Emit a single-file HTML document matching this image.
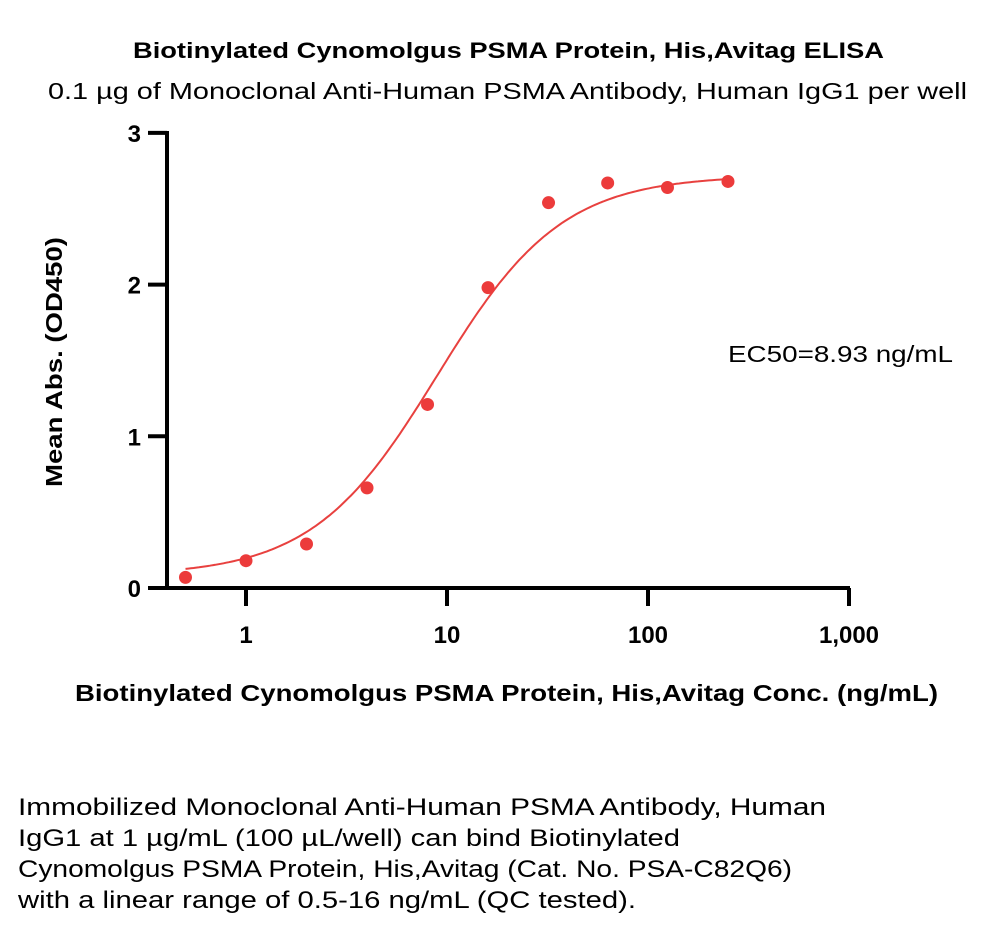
<!DOCTYPE html>
<html><head><meta charset="utf-8"><style>
body{margin:0;background:#fff;width:1000px;height:929px;overflow:hidden;font-family:"Liberation Sans",sans-serif}
svg text{font-family:"Liberation Sans",sans-serif}
</style></head><body>
<svg id="c" width="1000" height="929">
<text x="133" y="58" textLength="751" lengthAdjust="spacingAndGlyphs" font-size="22" font-weight="bold">Biotinylated Cynomolgus PSMA Protein, His,Avitag ELISA</text>
<text x="48" y="99" textLength="919" lengthAdjust="spacingAndGlyphs" font-size="23">0.1 µg of Monoclonal Anti-Human PSMA Antibody, Human IgG1 per well</text>
<text transform="translate(62,487) rotate(-90)" textLength="250" lengthAdjust="spacingAndGlyphs" font-size="23" font-weight="bold">Mean Abs. (OD450)</text>
<text x="75" y="701" textLength="863" lengthAdjust="spacingAndGlyphs" font-size="23" font-weight="bold">Biotinylated Cynomolgus PSMA Protein, His,Avitag Conc. (ng/mL)</text>
<text x="728" y="362" textLength="225" lengthAdjust="spacingAndGlyphs" font-size="23">EC50=8.93 ng/mL</text>
<g id="axes"></g><g id="marks"></g>
<text font-size="24">
<tspan x="18" y="815" textLength="808" lengthAdjust="spacingAndGlyphs">Immobilized Monoclonal Anti-Human PSMA Antibody, Human</tspan>
<tspan x="18" y="846" textLength="662" lengthAdjust="spacingAndGlyphs">IgG1 at 1 µg/mL (100 µL/well) can bind Biotinylated</tspan>
<tspan x="18" y="877" textLength="774" lengthAdjust="spacingAndGlyphs">Cynomolgus PSMA Protein, His,Avitag (Cat. No. PSA-C82Q6)</tspan>
<tspan x="18" y="908" textLength="618" lengthAdjust="spacingAndGlyphs">with a linear range of 0.5-16 ng/mL (QC tested).</tspan>
</text>
</svg>
<script>
const conc=[0.5,1,2,4,8,16,32,63,125,250];
const od=[0.07,0.18,0.29,0.66,1.21,1.98,2.54,2.67,2.64,2.68];
const xTicks=[1,10,100,1000];
const xTickLabels=["1","10","100","1,000"];
const yTicks=[0,1,2,3];
const fitBottom=0.08,fitTop=2.72,ec50=8.93,hill=1.4;
const NS="http://www.w3.org/2000/svg";
const X=v=>246+201*Math.log10(v);
const Y=v=>588-151.7*v;
function mk(t,a,p){const e=document.createElementNS(NS,t);for(const k in a)e.setAttribute(k,a[k]);p.appendChild(e);return e;}
const ax=document.getElementById('axes'),mk2=document.getElementById('marks');
let l=mk('line',{x1:148,y1:588,x2:850,y2:588,stroke:'#000','stroke-width':4},ax);


l=mk('line',{x1:167,y1:131,x2:167,y2:590,stroke:'#000','stroke-width':4},ax);


yTicks.forEach(v=>{
 const t=mk('line',{x1:148,y1:Y(v),x2:167,y2:Y(v),stroke:'#000','stroke-width':4},ax);
 
 
 const s=mk('text',{x:141,y:Y(v)+9,'text-anchor':'end','font-size':24,'font-weight':'bold'},ax);s.textContent=v;
 
 
});
xTicks.forEach((v,i)=>{
 const t=mk('line',{x1:X(v),y1:588,x2:X(v),y2:606,stroke:'#000','stroke-width':4},ax);
 
 
 const s=mk('text',{x:X(v),y:643,'text-anchor':'middle','font-size':24,'font-weight':'bold'},ax);s.textContent=xTickLabels[i];
 
 
});
let d='';
for(let i=0;i<=200;i++){const lx=Math.log10(conc[0])+(Math.log10(conc[conc.length-1])-Math.log10(conc[0]))*i/200;const c=Math.pow(10,lx);
 const y=fitBottom+(fitTop-fitBottom)/(1+Math.pow(ec50/c,hill));d+=(i?'L':'M')+X(c).toFixed(1)+','+Y(y).toFixed(1);}
const p=mk('path',{d:d,fill:'none',stroke:'#e8413f','stroke-width':2},mk2);


conc.forEach((c,i)=>{const e=mk('circle',{cx:X(c),cy:Y(od[i]),r:6.5,fill:'#ec3b3b'},mk2);
 
 });
</script>
</body></html>
